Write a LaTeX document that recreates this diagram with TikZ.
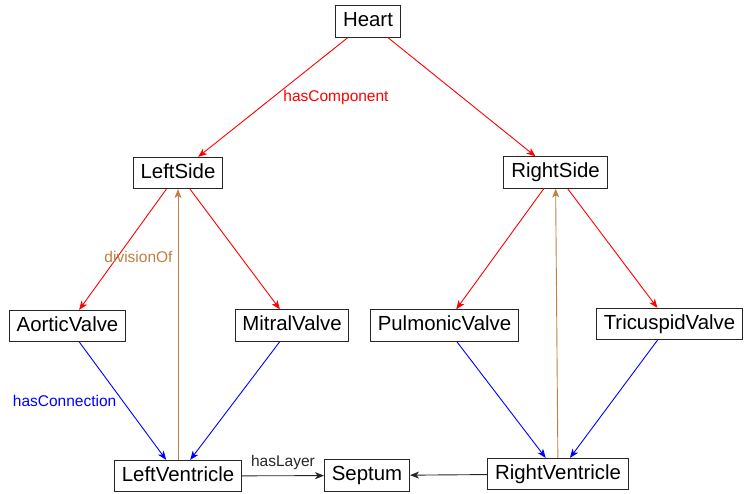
\documentclass[tikz,border=0pt]{standalone}
\usepackage{fontspec}
\setmainfont{Liberation Sans}
\usetikzlibrary{arrows.meta}
\tikzset{
  box/.style={draw=black!85, line width=1pt, fill=white, font=\fontsize{20.4}{22}\selectfont,
    text height=14.8pt, text depth=4pt, inner xsep=7.3pt, inner ysep=6.2pt},
  lbl/.style={font=\fontsize{15.5}{17}\selectfont, inner sep=2pt},
  arr/.style={line width=0.9pt, -{Stealth[length=9pt,width=7pt,inset=2.5pt]}},
  comp/.style={arr, red},
  conn/.style={arr, blue},
  div/.style={arr, brown},
  lay/.style={arr, black!85},
}
\begin{document}
\begin{tikzpicture}[x=1pt,y=-1pt]
\useasboundingbox (0,0) rectangle (744,493);
\node[box] (heart) at (368,21.5) {Heart};
\node[box] (ls) at (178,173) {LeftSide};
\node[box] (rs) at (555.5,172.5) {RightSide};
\node[box] (av) at (67.5,326) {AorticValve};
\node[box] (mv) at (292,325.5) {MitralValve};
\node[box] (pv) at (444.5,325.5) {PulmonicValve};
\node[box] (tv) at (669.5,324) {TricuspidValve};
\node[box] (lv) at (178,476) {LeftVentricle};
\node[box] (sp) at (367,475.5) {Septum};
\node[box] (rv) at (558,474) {RightVentricle};

\draw[comp] (heart) -- node[lbl, pos=0.5, anchor=west, xshift=8pt, text=red] {hasComponent} (ls);
\draw[comp] (heart) -- (rs);
\draw[comp] (ls) -- (av);
\draw[comp] (ls) -- (mv);
\draw[comp] (rs) -- (pv);
\draw[comp] (rs) -- (tv);
\draw[div] (lv) -- node[lbl, pos=0.75, anchor=east, xshift=-3pt, text=brown] {divisionOf} (ls);
\draw[div] (rv) -- (rs);
\draw[conn] (av) -- node[lbl, pos=0.5, anchor=east, xshift=-4pt, text=blue] {hasConnection} (lv);
\draw[conn] (mv) -- (lv);
\draw[conn] (pv) -- (rv);
\draw[conn] (tv) -- (rv);
\draw[lay] (lv) -- node[lbl, above, yshift=4pt, text=black!85] {hasLayer} (sp);
\draw[lay] (rv) -- (sp);
\end{tikzpicture}
\end{document}
